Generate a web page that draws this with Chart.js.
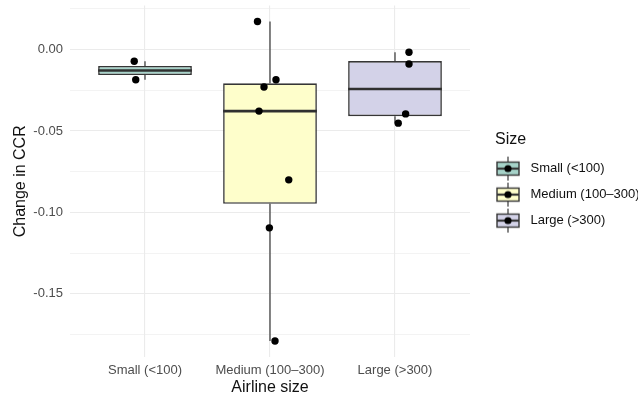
<!DOCTYPE html>
<html>
<head>
<meta charset="utf-8">
<script src="https://cdn.jsdelivr.net/npm/chart.js@4.4.1/dist/chart.umd.min.js"></script>
<style>
  html, body { margin: 0; padding: 0; background: #ffffff; }
  canvas { display: block; }
</style>
</head>
<body>
<canvas id="c" width="638" height="397"></canvas>
<script>
// Airline groups and the change in CCR observed for each airline
const CATEGORIES = ['Small (<100)', 'Medium (100–300)', 'Large (>300)'];
const SMALL_CCR  = [-0.0072, -0.0185];
const MEDIUM_CCR = [0.0172, -0.0185, -0.0230, -0.0378, -0.0800, -0.1095, -0.1790];
const LARGE_CCR  = [-0.0016, -0.0089, -0.0395, -0.0452];

// horizontal jitter of each observation (category index units)
const SMALL_JITTER  = [0.914, 0.926];
const MEDIUM_JITTER = [1.900, 2.048, 1.952, 1.912, 2.150, 1.995, 2.040];
const LARGE_JITTER  = [3.112, 3.112, 3.085, 3.026];

const Y_TICKS = [-0.175, -0.15, -0.125, -0.1, -0.075, -0.05, -0.025, 0, 0.025];
const X_TICKS = [1, 2, 3];

const FILLS = ['#a6d3c9', '#fefecb', '#d3d2e8'];
const EDGE = '#363636';
const FONT = 'Liberation Sans, Arial, Helvetica, sans-serif';

const GROUPS = [SMALL_CCR, MEDIUM_CCR, LARGE_CCR];
const JITTERS = [SMALL_JITTER, MEDIUM_JITTER, LARGE_JITTER];

// Tukey box statistics (type-7 quantiles, 1.5 IQR whiskers)
function quantile(sorted, p) {
  const h = (sorted.length - 1) * p;
  const lo = Math.floor(h), hi = Math.ceil(h);
  return sorted[lo] + (h - lo) * (sorted[hi] - sorted[lo]);
}
function boxStats(values) {
  const s = [...values].sort((a, b) => a - b);
  const q1 = quantile(s, 0.25), med = quantile(s, 0.5), q3 = quantile(s, 0.75);
  const iqr = q3 - q1;
  const inside = s.filter(v => v >= q1 - 1.5 * iqr && v <= q3 + 1.5 * iqr);
  return { q1, med, q3, lo: inside[0], hi: inside[inside.length - 1] };
}
const STATS = GROUPS.map(boxStats);

// y range padded by 5% of the data span
const allValues = GROUPS.flat();
const dataMin = Math.min(...allValues), dataMax = Math.max(...allValues);
const span = dataMax - dataMin;
const Y_MIN = dataMin - 0.05 * span;
const Y_MAX = dataMax + 0.05 * span;

const boxData = STATS.map((st, i) => ({ x: i + 1, y: [st.q1, st.q3] }));
const pointData = [];
GROUPS.forEach((vals, g) => vals.forEach((v, k) => pointData.push({ x: JITTERS[g][k], y: v })));

// legend key: a small box-and-whisker with a dot
function legendKey(fill) {
  const cv = document.createElement('canvas');
  cv.width = 40; cv.height = 26;
  const g = cv.getContext('2d');
  const left = 1, w = 22, cx = left + w / 2, cy = 13;
  g.strokeStyle = EDGE;
  g.lineWidth = 1.2;
  g.beginPath();
  g.moveTo(cx, 1); g.lineTo(cx, 25);
  g.stroke();
  g.fillStyle = fill;
  g.fillRect(left, 6.5, w, 13);
  g.lineWidth = 1.4;
  g.strokeRect(left, 6.5, w, 13);
  g.lineWidth = 2.2;
  g.beginPath();
  g.moveTo(left, cy); g.lineTo(left + w, cy);
  g.stroke();
  g.fillStyle = '#000';
  g.beginPath();
  g.arc(cx, cy, 3.6, 0, Math.PI * 2);
  g.fill();
  return cv;
}
const KEYS = FILLS.map(legendKey);

// whiskers below the boxes, medians on top of them
const boxParts = {
  id: 'boxParts',
  beforeDatasetsDraw(chart) {
    const { ctx, scales: { x, y } } = chart;
    ctx.save();
    ctx.strokeStyle = EDGE;
    ctx.lineWidth = 1.2;
    STATS.forEach((st, i) => {
      const px = x.getPixelForValue(i + 1);
      ctx.beginPath();
      ctx.moveTo(px, y.getPixelForValue(st.hi));
      ctx.lineTo(px, y.getPixelForValue(st.q3));
      ctx.moveTo(px, y.getPixelForValue(st.q1));
      ctx.lineTo(px, y.getPixelForValue(st.lo));
      ctx.stroke();
    });
    ctx.restore();
  },
  afterDatasetDraw(chart, args) {
    if (args.index !== 0) return;
    const { ctx, scales: { y } } = chart;
    const bars = chart.getDatasetMeta(0).data;
    ctx.save();
    ctx.strokeStyle = '#303030';
    ctx.lineWidth = 2.7;
    STATS.forEach((st, i) => {
      const el = bars[i];
      const py = y.getPixelForValue(st.med);
      ctx.beginPath();
      ctx.moveTo(el.x - el.width / 2, py);
      ctx.lineTo(el.x + el.width / 2, py);
      ctx.stroke();
    });
    ctx.restore();
  }
};

const isMajor = v => Math.abs(v / 0.05 - Math.round(v / 0.05)) < 1e-6;

new Chart(document.getElementById('c'), {
  type: 'bar',
  data: {
    datasets: [
      {
        type: 'bar',
        data: boxData,
        backgroundColor: FILLS,
        borderColor: EDGE,
        borderWidth: 1.6,
        borderSkipped: false,
        barPercentage: 0.75,
        categoryPercentage: 1,
        order: 2
      },
      {
        type: 'scatter',
        data: pointData,
        backgroundColor: '#000000',
        borderWidth: 0,
        pointRadius: 3.7,
        order: 1
      }
    ]
  },
  options: {
    responsive: false,
    animation: false,
    layout: { padding: { top: 5.6, right: 0, bottom: 0, left: 0 } },
    plugins: {
      tooltip: { enabled: false },
      legend: {
        position: 'right',
        align: 'start',
        maxWidth: 143,
        onClick: null,
        title: {
          display: true,
          text: 'Size',
          position: 'start',
          color: '#111111',
          font: { family: FONT, size: 16, lineHeight: 1 },
          padding: { top: 126, bottom: 1.5 }
        },
        labels: {
          usePointStyle: true,
          pointStyleWidth: 16,
          padding: 13,
          color: '#1a1a1a',
          font: { family: FONT, size: 13 },
          generateLabels: () => CATEGORIES.map((name, i) => ({
            text: name,
            pointStyle: KEYS[i],
            fillStyle: FILLS[i],
            strokeStyle: EDGE,
            lineWidth: 1,
            hidden: false,
            index: i
          }))
        }
      }
    },
    scales: {
      x: {
        type: 'linear',
        min: 0.4,
        max: 3.6,
        offset: false,
        afterBuildTicks: s => { s.ticks = X_TICKS.map(v => ({ value: v })); },
        afterFit: s => { s.height = 40; s.paddingLeft = 0; s.paddingRight = 0; },
        grid: { color: '#ebebeb', lineWidth: 1.1, drawTicks: false, offset: false },
        border: { display: false },
        ticks: {
          padding: 6,
          color: '#4d4d4d',
          font: { family: FONT, size: 13 },
          callback: v => CATEGORIES[Math.round(v) - 1]
        },
        title: {
          display: true,
          text: 'Airline size',
          color: '#111111',
          font: { family: FONT, size: 16 },
          padding: { top: 0, bottom: 0 }
        }
      },
      y: {
        type: 'linear',
        min: Y_MIN,
        max: Y_MAX,
        afterBuildTicks: s => { s.ticks = Y_TICKS.map(v => ({ value: v })); },
        afterFit: s => { s.width = 70; s.paddingTop = 0; s.paddingBottom = 0; },
        grid: {
          color: '#ebebeb',
          lineWidth: c => (c.tick && isMajor(c.tick.value)) ? 1.1 : 0.6,
          drawTicks: false
        },
        border: { display: false },
        ticks: {
          padding: 7,
          color: '#4d4d4d',
          font: { family: FONT, size: 13 },
          callback: v => isMajor(v) ? v.toFixed(2) : ''
        },
        title: {
          display: true,
          text: 'Change in CCR',
          color: '#111111',
          font: { family: FONT, size: 16 },
          padding: { top: 11, bottom: 0 }
        }
      },
      gap: {
        type: 'linear',
        position: 'right',
        display: true,
        afterFit: s => { s.width = 25; s.paddingTop = 0; s.paddingBottom = 0; },
        grid: { display: false },
        border: { display: false },
        ticks: { display: false }
      }
    }
  },
  plugins: [boxParts]
});
</script>
</body>
</html>
